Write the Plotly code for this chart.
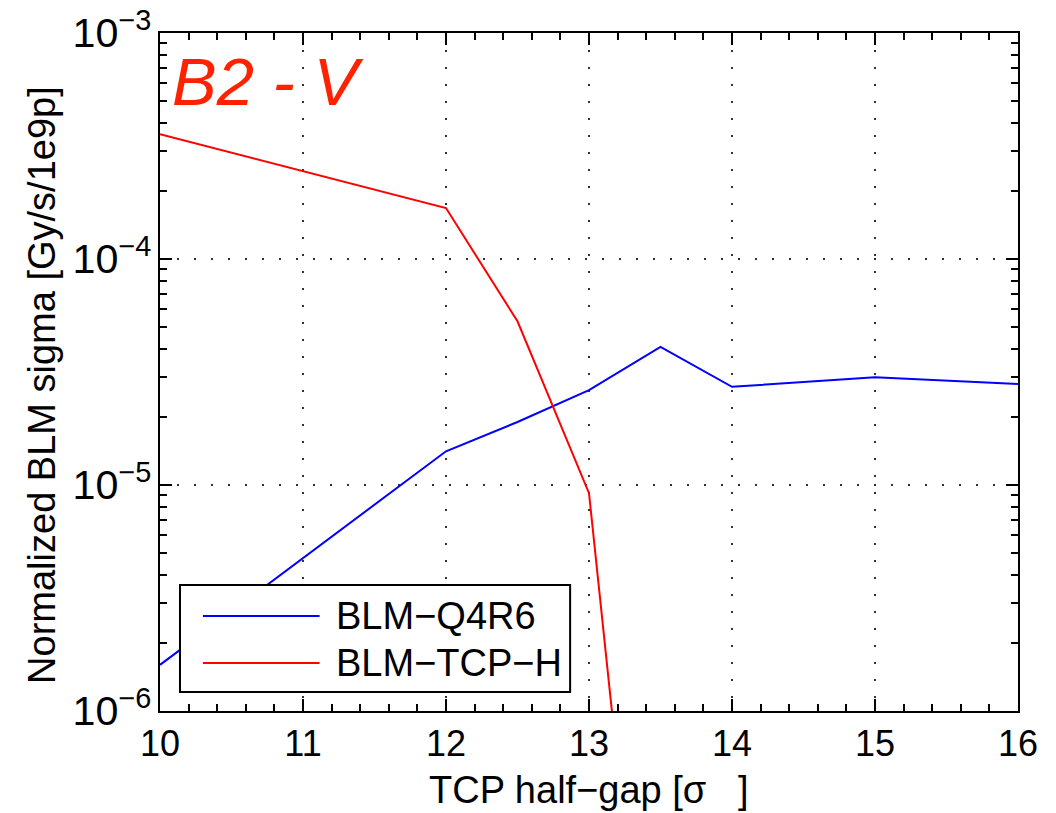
import plotly.graph_objects as go

x_q4r6 = [10, 12, 12.5, 13, 13.5, 14, 15, 16]
y_q4r6 = [1.6e-6, 1.41e-5, 1.9e-5, 2.63e-5, 4.08e-5, 2.72e-5, 3.0e-5, 2.8e-5]

x_tcp = [10, 12, 12.5, 13, 13.5]
y_tcp = [3.57e-4, 1.68e-4, 5.3e-5, 9.2e-6, 9.0e-9]

names = ["BLM\u2212Q4R6", "BLM\u2212TCP\u2212H"]
colors = ["#0000ff", "#ff0000"]
FONT = "Liberation Sans, Arial, Helvetica, sans-serif"

fig = go.Figure()
fig.add_trace(go.Scatter(x=x_q4r6, y=y_q4r6, mode="lines", name=names[0],
                         line=dict(color=colors[0], width=2), showlegend=False))
fig.add_trace(go.Scatter(x=x_tcp, y=y_tcp, mode="lines", name=names[1],
                         line=dict(color=colors[1], width=2), showlegend=False))

axis_common = dict(
    showline=True, linecolor="black", linewidth=2, mirror="ticks",
    ticks="inside", ticklen=12, tickwidth=2, tickcolor="black",
    showgrid=True, gridcolor="#333333", griddash="2px,15px", gridwidth=1.5,
    zeroline=False, ticklabeloverflow="allow", automargin=False,
)

fig.update_xaxes(range=[10, 16], dtick=1,
                 tickfont=dict(size=36, color="black", family=FONT),
                 minor=dict(dtick=0.2, ticks="inside", ticklen=7, tickwidth=1.5,
                            tickcolor="black", showgrid=False),
                 **axis_common)
fig.update_yaxes(type="log", range=[-6, -3], dtick=1, exponentformat="power",
                 tickfont=dict(size=33, color="black", family=FONT),
                 minor=dict(dtick="D1", ticks="inside", ticklen=7, tickwidth=1.5,
                            tickcolor="black", showgrid=False),
                 **axis_common)

# axis titles
fig.add_annotation(text="TCP half\u2212gap [\u03c3\u00a0\u00a0\u00a0]", xref="paper", yref="paper",
                   x=0.5, y=-0.117, xanchor="center", yanchor="middle", showarrow=False,
                   font=dict(size=38, color="black", family=FONT))
fig.add_annotation(text="Normalized BLM sigma [Gy/s/1e9p]", xref="paper", yref="paper",
                   x=-0.1375, y=0.481, xanchor="center", yanchor="middle",
                   textangle=-90, showarrow=False,
                   font=dict(size=38, color="black", family=FONT))

fig.add_annotation(text="<i>B2 - V</i>", xref="paper", yref="paper", x=0.012, y=0.987,
                   xanchor="left", yanchor="top", showarrow=False,
                   font=dict(size=67, color="#ff2200", family=FONT))

# manual legend box
leg_x0, leg_x1, leg_y0, leg_y1 = 0.0233, 0.478, 0.028, 0.186
fig.add_shape(type="rect", xref="paper", yref="paper", x0=leg_x0, x1=leg_x1,
              y0=leg_y0, y1=leg_y1, line=dict(color="black", width=2),
              fillcolor="white", layer="above")
leg_rows = [0.140, 0.0708]
for name, col, yy in zip(names, colors, leg_rows):
    fig.add_shape(type="line", xref="paper", yref="paper", x0=0.050, x1=0.186,
                  y0=yy, y1=yy, line=dict(color=col, width=2), layer="above")
    fig.add_annotation(text=name, xref="paper", yref="paper", x=0.203, y=yy,
                       xanchor="left", yanchor="middle", showarrow=False,
                       font=dict(size=38, color="black", family=FONT))

fig.update_layout(
    width=1040, height=805,
    margin=dict(l=152, r=30, t=25, b=102),
    paper_bgcolor="white", plot_bgcolor="white",
    font=dict(family=FONT, color="black"),
    showlegend=False,
)

fig.write_html("out.html")
